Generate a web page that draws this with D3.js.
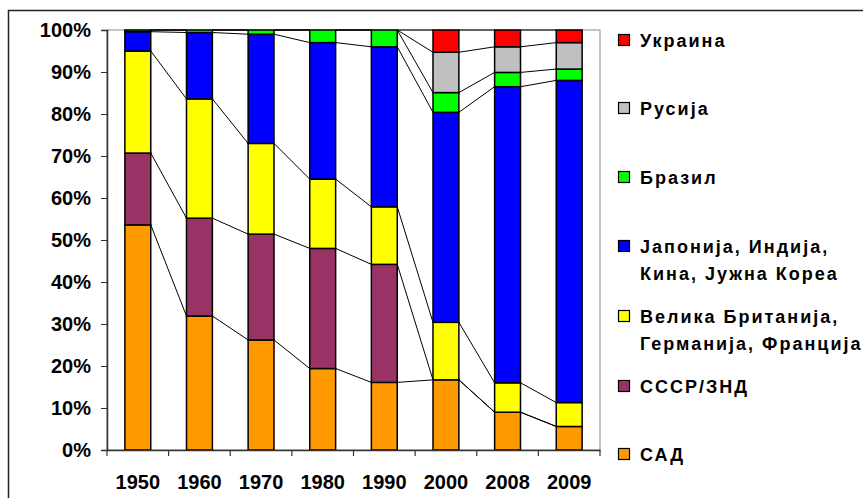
<!DOCTYPE html>
<html><head><meta charset="utf-8">
<script src="https://cdn.jsdelivr.net/npm/d3@7"></script>
<style>
html,body{margin:0;padding:0;background:#fff;}
svg{display:block;font-family:Arial,"Liberation Sans",sans-serif;font-weight:bold;}
</style></head>
<body>
<svg id="c" width="863" height="498"></svg>
<script>
// ---- data ----
const years = ['1950','1960','1970','1980','1990','2000','2008','2009'];
const seriesNames = ['САД','СССР/ЗНД','Велика Британија,\nГерманија, Франција','Јапонија, Индија,\nКина, Јужна Кореа','Бразил','Русија','Украина'];
const seriesColors = ['#FF9900','#993366','#FFFF00','#0000FF','#00FF00','#C0C0C0','#FF0000'];
const usa     = [53.6, 31.9, 26.2, 19.4, 16.1, 16.7, 9.0, 5.6];
const ussr    = [17.1, 23.3, 25.2, 28.6, 28.1, 0, 0, 0];
const europe  = [24.3, 28.4, 21.6, 16.5, 13.7, 13.7, 7.0, 5.7];
const asia    = [4.6, 15.8, 26.0, 32.5, 38.1, 50.0, 70.5, 76.7];
const brazil  = [0.4, 0.6, 1.0, 3.0, 4.0, 4.7, 3.4, 2.7];
const russia  = [0, 0, 0, 0, 0, 9.6, 6.1, 6.3];
const ukraine = [0, 0, 0, 0, 0, 5.3, 4.0, 3.0];
const yTicks = [0,10,20,30,40,50,60,70,80,90,100];

const seriesValues = [usa, ussr, europe, asia, brazil, russia, ukraine];

// ---- layout ----
const svg = d3.select('#c');
const L = 107, R = 600, T = 30, B = 450;

// outer chart border
svg.append('rect').attr('x',8.5).attr('y',10.5).attr('width',870).attr('height',500)
  .attr('fill','none').attr('stroke','#222').attr('stroke-width',1.5);

const x = d3.scaleBand().domain(years).range([L,R]).paddingInner(0.58).paddingOuter(0.29);
const xb = d3.scaleBand().domain(years).range([L,R]);
const y = d3.scaleLinear().domain([0,100]).range([B,T]);

// plot area border (gray)
svg.append('rect').attr('x',L).attr('y',T).attr('width',R-L).attr('height',B-T)
  .attr('fill','none').attr('stroke','#a0a0a0').attr('stroke-width',1.2);

// stacked data
const rows = years.map((yr,i)=>{ const o={year:yr}; seriesNames.forEach((s,k)=>o[k]=seriesValues[k][i]); return o;});
const stack = d3.stack().keys(d3.range(seriesNames.length))(rows);

// series lines
stack.forEach((layer,k)=>{
  for(let i=0;i<years.length-1;i++){
    const top = layer[i][1];
    const top2 = layer[i+1][1];
    svg.append('line')
      .attr('x1', x(years[i])+x.bandwidth()).attr('y1', y(Math.min(top,100)))
      .attr('x2', x(years[i+1])).attr('y2', y(Math.min(top2,100)))
      .attr('stroke','#000').attr('stroke-width',1);
  }
});

// bars
stack.forEach((layer,k)=>{
  svg.append('g').selectAll('rect').data(layer).join('rect')
    .attr('x', d=>x(d.data.year))
    .attr('width', x.bandwidth())
    .attr('y', d=>y(d[1]))
    .attr('height', d=>Math.max(0,y(d[0])-y(d[1])))
    .attr('fill', seriesColors[k])
    .attr('stroke','#000').attr('stroke-width',1.5)
    .style('display', d=> (d[1]-d[0])>0 ? null : 'none');
});

// axes
const yAxis = d3.axisLeft(y).tickValues(yTicks).tickFormat(d=>d+'%').tickSize(6).tickPadding(10);
const gy = svg.append('g').attr('transform',`translate(${L},0)`).call(yAxis);
gy.select('.domain').attr('stroke','#333').attr('stroke-width',1.5);
gy.selectAll('.tick line').attr('stroke','#333');
gy.selectAll('text').attr('font-size',20).attr('font-weight','bold').attr('font-family','Arial, Liberation Sans, sans-serif').attr('fill','#000');

const xAxis = d3.axisBottom(xb).tickSize(0).tickPadding(0).tickFormat(d=>d);
const gx = svg.append('g').attr('transform',`translate(0,${B})`).call(xAxis);
gx.select('.domain').attr('stroke','#333').attr('stroke-width',1.5);
gx.selectAll('text').attr('font-size',20).attr('font-weight','bold').attr('font-family','Arial, Liberation Sans, sans-serif').attr('fill','#000')
  .attr('dy',null).attr('y',39);
// category boundary ticks
svg.append('g').selectAll('line').data(years.concat(['end'])).join('line')
  .attr('x1',(d,i)=>L+i*xb.bandwidth()).attr('x2',(d,i)=>L+i*xb.bandwidth())
  .attr('y1',B).attr('y2',B+6).attr('stroke','#333').attr('stroke-width',1.2);

// legend (top to bottom reversed order)
const legendY = [40, 108, 177, 246, 316, 386, 454];
const order = d3.range(seriesNames.length).reverse();
const lg = svg.append('g');
order.forEach((k,j)=>{
  const cy = legendY[j];
  lg.append('rect').attr('x',618.5).attr('y',cy-5.5).attr('width',11).attr('height',11)
    .attr('fill',seriesColors[k]).attr('stroke','#000').attr('stroke-width',1.2);
  const t = lg.append('text').attr('x',640).attr('y',cy+6.5).attr('font-size',18)
    .attr('letter-spacing','2px').attr('fill','#000');
  seriesNames[k].split('\n').forEach((line,li)=>{
    t.append('tspan').attr('x',640).attr('dy', li===0?0:27.5).text(line);
  });
});
</script>
</body></html>
